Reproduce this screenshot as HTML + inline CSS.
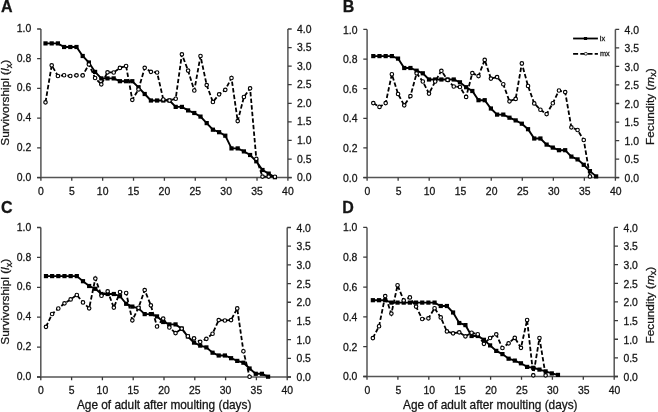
<!DOCTYPE html>
<html><head><meta charset="utf-8"><title>Life table</title>
<style>html,body{margin:0;padding:0;background:#fff;width:658px;height:412px;overflow:hidden}svg text{fill:#151515;stroke:#151515;stroke-width:0.28px}</style>
</head><body><svg width="658" height="412" viewBox="0 0 658 412" style="display:block;font-family:'Liberation Sans',sans-serif;will-change:transform" fill="#222"><g id="pA"><path d="M40.9 29V177.6M287.9 29V177.6M37.1 177.6H291.7" stroke="#555" stroke-width="1.5" fill="none"/><path d="M37.1 177.6H40.9M37.1 147.88H40.9M37.1 118.16H40.9M37.1 88.44H40.9M37.1 58.72H40.9M37.1 29H40.9M287.9 177.6H291.7M287.9 159.03H291.7M287.9 140.45H291.7M287.9 121.88H291.7M287.9 103.3H291.7M287.9 84.72H291.7M287.9 66.15H291.7M287.9 47.57H291.7M287.9 29H291.7M40.9 177.6V180.8M71.77 177.6V180.8M102.65 177.6V180.8M133.52 177.6V180.8M164.4 177.6V180.8M195.27 177.6V180.8M226.15 177.6V180.8M257.02 177.6V180.8M287.9 177.6V180.8" stroke="#3a3a3a" stroke-width="1.3" fill="none"/><g font-size="10.4"><text x="31.3" y="180.5" text-anchor="end">0.0</text><text x="31.3" y="150.78" text-anchor="end">0.2</text><text x="31.3" y="121.06" text-anchor="end">0.4</text><text x="31.3" y="91.34" text-anchor="end">0.6</text><text x="31.3" y="61.62" text-anchor="end">0.8</text><text x="31.3" y="31.9" text-anchor="end">1.0</text><text x="297.1" y="181.1">0.0</text><text x="297.1" y="162.53">0.5</text><text x="297.1" y="143.95">1.0</text><text x="297.1" y="125.38">1.5</text><text x="297.1" y="106.8">2.0</text><text x="297.1" y="88.22">2.5</text><text x="297.1" y="69.65">3.0</text><text x="297.1" y="51.07">3.5</text><text x="297.1" y="32.5">4.0</text><text x="40.9" y="194.9" text-anchor="middle">0</text><text x="71.77" y="194.9" text-anchor="middle">5</text><text x="102.65" y="194.9" text-anchor="middle">10</text><text x="133.52" y="194.9" text-anchor="middle">15</text><text x="164.4" y="194.9" text-anchor="middle">20</text><text x="195.27" y="194.9" text-anchor="middle">25</text><text x="226.15" y="194.9" text-anchor="middle">30</text><text x="257.02" y="194.9" text-anchor="middle">35</text><text x="287.9" y="194.9" text-anchor="middle">40</text></g><text transform="translate(9.3 102.8) rotate(-90)" text-anchor="middle" font-size="11.8">Survivorshipl (<tspan font-style="italic">l</tspan><tspan font-size="9" dy="2.2">x</tspan><tspan dy="-2.2">)</tspan></text><text x="1" y="11.9" font-size="16" font-weight="bold">A</text><polyline points="45.5,102.3 51.7,65.3 57.9,76 64.1,75.2 70.3,76 76.5,75.3 82.7,75.4 88.9,64.4 95.1,78 101.3,84.3 107.5,72.3 113.7,72.5 119.9,67.9 126.1,66 132.3,99.8 138.5,89.4 144.7,67.8 150.9,71.8 157.1,72.5 163.3,99.5 169.5,100.5 175.7,98.7 181.9,54.3 188.1,70.6 194.3,90.5 200.5,56 206.7,85.1 212.9,102 219.1,94.3 225.3,89.8 231.5,78 237.7,121.1 243.9,97 250.1,88.3 256.3,158.8 262.5,176.6 268.7,176.6 274.9,176.7" fill="none" stroke="#000" stroke-width="1.8" stroke-dasharray="4.4 2.2"/><polyline points="45.5,43.4 51.7,43.4 57.9,43.4 64.1,47 70.3,47 76.5,47 82.7,56 88.9,62.5 95.1,71.9 101.3,78.4 107.5,78.4 113.7,78.4 119.9,81.2 126.1,81.2 132.3,81.2 138.5,87.3 144.7,94 150.9,100.5 157.1,100.5 163.3,100.5 169.5,100.5 175.7,106.9 181.9,106.9 188.1,110.4 194.3,113 200.5,116.6 206.7,123.1 212.9,129.7 219.1,132.2 225.3,135.7 231.5,148.4 237.7,148.4 243.9,151.4 250.1,155 256.3,161.3 262.5,170 268.7,173.6 274.9,177.2" fill="none" stroke="#000" stroke-width="1.9"/><g fill="#000"><rect x="43.4" y="41.3" width="4.2" height="4.2"/><rect x="49.6" y="41.3" width="4.2" height="4.2"/><rect x="55.8" y="41.3" width="4.2" height="4.2"/><rect x="62" y="44.9" width="4.2" height="4.2"/><rect x="68.2" y="44.9" width="4.2" height="4.2"/><rect x="74.4" y="44.9" width="4.2" height="4.2"/><rect x="80.6" y="53.9" width="4.2" height="4.2"/><rect x="86.8" y="60.4" width="4.2" height="4.2"/><rect x="93" y="69.8" width="4.2" height="4.2"/><rect x="99.2" y="76.3" width="4.2" height="4.2"/><rect x="105.4" y="76.3" width="4.2" height="4.2"/><rect x="111.6" y="76.3" width="4.2" height="4.2"/><rect x="117.8" y="79.1" width="4.2" height="4.2"/><rect x="124" y="79.1" width="4.2" height="4.2"/><rect x="130.2" y="79.1" width="4.2" height="4.2"/><rect x="136.4" y="85.2" width="4.2" height="4.2"/><rect x="142.6" y="91.9" width="4.2" height="4.2"/><rect x="148.8" y="98.4" width="4.2" height="4.2"/><rect x="155" y="98.4" width="4.2" height="4.2"/><rect x="161.2" y="98.4" width="4.2" height="4.2"/><rect x="167.4" y="98.4" width="4.2" height="4.2"/><rect x="173.6" y="104.8" width="4.2" height="4.2"/><rect x="179.8" y="104.8" width="4.2" height="4.2"/><rect x="186" y="108.3" width="4.2" height="4.2"/><rect x="192.2" y="110.9" width="4.2" height="4.2"/><rect x="198.4" y="114.5" width="4.2" height="4.2"/><rect x="204.6" y="121" width="4.2" height="4.2"/><rect x="210.8" y="127.6" width="4.2" height="4.2"/><rect x="217" y="130.1" width="4.2" height="4.2"/><rect x="223.2" y="133.6" width="4.2" height="4.2"/><rect x="229.4" y="146.3" width="4.2" height="4.2"/><rect x="235.6" y="146.3" width="4.2" height="4.2"/><rect x="241.8" y="149.3" width="4.2" height="4.2"/><rect x="248" y="152.9" width="4.2" height="4.2"/><rect x="254.2" y="159.2" width="4.2" height="4.2"/><rect x="260.4" y="167.9" width="4.2" height="4.2"/><rect x="266.6" y="171.5" width="4.2" height="4.2"/><rect x="272.8" y="175.1" width="4.2" height="4.2"/></g><g fill="#fff" stroke="#000" stroke-width="1.15"><circle cx="45.5" cy="102.3" r="1.75"/><circle cx="51.7" cy="65.3" r="1.75"/><circle cx="57.9" cy="76" r="1.75"/><circle cx="64.1" cy="75.2" r="1.75"/><circle cx="70.3" cy="76" r="1.75"/><circle cx="76.5" cy="75.3" r="1.75"/><circle cx="82.7" cy="75.4" r="1.75"/><circle cx="88.9" cy="64.4" r="1.75"/><circle cx="95.1" cy="78" r="1.75"/><circle cx="101.3" cy="84.3" r="1.75"/><circle cx="107.5" cy="72.3" r="1.75"/><circle cx="113.7" cy="72.5" r="1.75"/><circle cx="119.9" cy="67.9" r="1.75"/><circle cx="126.1" cy="66" r="1.75"/><circle cx="132.3" cy="99.8" r="1.75"/><circle cx="138.5" cy="89.4" r="1.75"/><circle cx="144.7" cy="67.8" r="1.75"/><circle cx="150.9" cy="71.8" r="1.75"/><circle cx="157.1" cy="72.5" r="1.75"/><circle cx="163.3" cy="99.5" r="1.75"/><circle cx="169.5" cy="100.5" r="1.75"/><circle cx="175.7" cy="98.7" r="1.75"/><circle cx="181.9" cy="54.3" r="1.75"/><circle cx="188.1" cy="70.6" r="1.75"/><circle cx="194.3" cy="90.5" r="1.75"/><circle cx="200.5" cy="56" r="1.75"/><circle cx="206.7" cy="85.1" r="1.75"/><circle cx="212.9" cy="102" r="1.75"/><circle cx="219.1" cy="94.3" r="1.75"/><circle cx="225.3" cy="89.8" r="1.75"/><circle cx="231.5" cy="78" r="1.75"/><circle cx="237.7" cy="121.1" r="1.75"/><circle cx="243.9" cy="97" r="1.75"/><circle cx="250.1" cy="88.3" r="1.75"/><circle cx="256.3" cy="158.8" r="1.75"/><circle cx="262.5" cy="176.6" r="1.75"/><circle cx="268.7" cy="176.6" r="1.75"/><circle cx="274.9" cy="176.7" r="1.75"/></g></g><g id="pB"><path d="M367.1 29.4V177.6M615.4 29.4V177.6M363.3 177.6H619.2" stroke="#555" stroke-width="1.5" fill="none"/><path d="M363.3 177.6H367.1M363.3 147.96H367.1M363.3 118.32H367.1M363.3 88.68H367.1M363.3 59.04H367.1M363.3 29.4H367.1M615.4 177.6H619.2M615.4 159.07H619.2M615.4 140.55H619.2M615.4 122.03H619.2M615.4 103.5H619.2M615.4 84.97H619.2M615.4 66.45H619.2M615.4 47.93H619.2M615.4 29.4H619.2M367.1 177.6V180.8M398.14 177.6V180.8M429.18 177.6V180.8M460.21 177.6V180.8M491.25 177.6V180.8M522.29 177.6V180.8M553.33 177.6V180.8M584.36 177.6V180.8M615.4 177.6V180.8" stroke="#3a3a3a" stroke-width="1.3" fill="none"/><g font-size="10.4"><text x="357.5" y="181.7" text-anchor="end">0.0</text><text x="357.5" y="152.06" text-anchor="end">0.2</text><text x="357.5" y="122.42" text-anchor="end">0.4</text><text x="357.5" y="92.78" text-anchor="end">0.6</text><text x="357.5" y="63.14" text-anchor="end">0.8</text><text x="357.5" y="33.5" text-anchor="end">1.0</text><text x="624.6" y="182">0.0</text><text x="624.6" y="163.47">0.5</text><text x="624.6" y="144.95">1.0</text><text x="624.6" y="126.43">1.5</text><text x="624.6" y="107.9">2.0</text><text x="624.6" y="89.38">2.5</text><text x="624.6" y="70.85">3.0</text><text x="624.6" y="52.33">3.5</text><text x="624.6" y="33.8">4.0</text><text x="367.5" y="194.9" text-anchor="middle">0</text><text x="398.54" y="194.9" text-anchor="middle">5</text><text x="429.57" y="194.9" text-anchor="middle">10</text><text x="460.61" y="194.9" text-anchor="middle">15</text><text x="491.65" y="194.9" text-anchor="middle">20</text><text x="522.69" y="194.9" text-anchor="middle">25</text><text x="553.73" y="194.9" text-anchor="middle">30</text><text x="584.76" y="194.9" text-anchor="middle">35</text><text x="615.8" y="194.9" text-anchor="middle">40</text></g><text transform="translate(654.2 106.7) rotate(-90)" text-anchor="middle" font-size="11.8">Fecundity (<tspan font-style="italic">m</tspan><tspan font-size="9" dy="2.2">x</tspan><tspan dy="-2.2">)</tspan></text><text x="342.8" y="11.9" font-size="16" font-weight="bold">B</text><polyline points="373.29,103.1 379.48,106.9 385.67,103.1 391.86,74.2 398.05,94 404.24,105.3 410.43,96.1 416.62,73.3 422.81,81.5 429,93.6 435.19,81.5 441.38,70.8 447.57,79.9 453.76,86.5 459.95,87 466.14,96.9 472.33,73.1 478.52,76.1 484.71,59.9 490.9,78.6 497.09,77.1 503.28,84.2 509.47,101.3 515.66,98.9 521.85,63.4 528.04,86 534.23,103.4 540.42,109.7 546.61,114.1 552.8,103.2 558.99,90.5 565.18,92.1 571.37,127.3 577.56,130 583.75,140 589.94,176.4" fill="none" stroke="#000" stroke-width="1.8" stroke-dasharray="4.4 2.2"/><polyline points="373.29,56.1 379.48,56.1 385.67,56.1 391.86,56.1 398.05,58.6 404.24,68 410.43,68 416.62,70.7 422.81,73.3 429,79.5 435.19,79.5 441.38,79.5 447.57,79.5 453.76,79.5 459.95,82.3 466.14,87.2 472.33,91 478.52,100.2 484.71,100.2 490.9,108.5 497.09,114.6 503.28,114.6 509.47,117.7 515.66,120.4 521.85,123.7 528.04,129.2 534.23,138.5 540.42,138.5 546.61,144.6 552.8,147.6 558.99,150.2 565.18,150.2 571.37,156.6 577.56,159.4 583.75,164.8 589.94,171.1 596.13,176.4" fill="none" stroke="#000" stroke-width="1.9"/><g fill="#000"><rect x="371.19" y="54" width="4.2" height="4.2"/><rect x="377.38" y="54" width="4.2" height="4.2"/><rect x="383.57" y="54" width="4.2" height="4.2"/><rect x="389.76" y="54" width="4.2" height="4.2"/><rect x="395.95" y="56.5" width="4.2" height="4.2"/><rect x="402.14" y="65.9" width="4.2" height="4.2"/><rect x="408.33" y="65.9" width="4.2" height="4.2"/><rect x="414.52" y="68.6" width="4.2" height="4.2"/><rect x="420.71" y="71.2" width="4.2" height="4.2"/><rect x="426.9" y="77.4" width="4.2" height="4.2"/><rect x="433.09" y="77.4" width="4.2" height="4.2"/><rect x="439.28" y="77.4" width="4.2" height="4.2"/><rect x="445.47" y="77.4" width="4.2" height="4.2"/><rect x="451.66" y="77.4" width="4.2" height="4.2"/><rect x="457.85" y="80.2" width="4.2" height="4.2"/><rect x="464.04" y="85.1" width="4.2" height="4.2"/><rect x="470.23" y="88.9" width="4.2" height="4.2"/><rect x="476.42" y="98.1" width="4.2" height="4.2"/><rect x="482.61" y="98.1" width="4.2" height="4.2"/><rect x="488.8" y="106.4" width="4.2" height="4.2"/><rect x="494.99" y="112.5" width="4.2" height="4.2"/><rect x="501.18" y="112.5" width="4.2" height="4.2"/><rect x="507.37" y="115.6" width="4.2" height="4.2"/><rect x="513.56" y="118.3" width="4.2" height="4.2"/><rect x="519.75" y="121.6" width="4.2" height="4.2"/><rect x="525.94" y="127.1" width="4.2" height="4.2"/><rect x="532.13" y="136.4" width="4.2" height="4.2"/><rect x="538.32" y="136.4" width="4.2" height="4.2"/><rect x="544.51" y="142.5" width="4.2" height="4.2"/><rect x="550.7" y="145.5" width="4.2" height="4.2"/><rect x="556.89" y="148.1" width="4.2" height="4.2"/><rect x="563.08" y="148.1" width="4.2" height="4.2"/><rect x="569.27" y="154.5" width="4.2" height="4.2"/><rect x="575.46" y="157.3" width="4.2" height="4.2"/><rect x="581.65" y="162.7" width="4.2" height="4.2"/><rect x="587.84" y="169" width="4.2" height="4.2"/><rect x="594.03" y="174.3" width="4.2" height="4.2"/></g><g fill="#fff" stroke="#000" stroke-width="1.15"><circle cx="373.29" cy="103.1" r="1.75"/><circle cx="379.48" cy="106.9" r="1.75"/><circle cx="385.67" cy="103.1" r="1.75"/><circle cx="391.86" cy="74.2" r="1.75"/><circle cx="398.05" cy="94" r="1.75"/><circle cx="404.24" cy="105.3" r="1.75"/><circle cx="410.43" cy="96.1" r="1.75"/><circle cx="416.62" cy="73.3" r="1.75"/><circle cx="422.81" cy="81.5" r="1.75"/><circle cx="429" cy="93.6" r="1.75"/><circle cx="435.19" cy="81.5" r="1.75"/><circle cx="441.38" cy="70.8" r="1.75"/><circle cx="447.57" cy="79.9" r="1.75"/><circle cx="453.76" cy="86.5" r="1.75"/><circle cx="459.95" cy="87" r="1.75"/><circle cx="466.14" cy="96.9" r="1.75"/><circle cx="472.33" cy="73.1" r="1.75"/><circle cx="478.52" cy="76.1" r="1.75"/><circle cx="484.71" cy="59.9" r="1.75"/><circle cx="490.9" cy="78.6" r="1.75"/><circle cx="497.09" cy="77.1" r="1.75"/><circle cx="503.28" cy="84.2" r="1.75"/><circle cx="509.47" cy="101.3" r="1.75"/><circle cx="515.66" cy="98.9" r="1.75"/><circle cx="521.85" cy="63.4" r="1.75"/><circle cx="528.04" cy="86" r="1.75"/><circle cx="534.23" cy="103.4" r="1.75"/><circle cx="540.42" cy="109.7" r="1.75"/><circle cx="546.61" cy="114.1" r="1.75"/><circle cx="552.8" cy="103.2" r="1.75"/><circle cx="558.99" cy="90.5" r="1.75"/><circle cx="565.18" cy="92.1" r="1.75"/><circle cx="571.37" cy="127.3" r="1.75"/><circle cx="577.56" cy="130" r="1.75"/><circle cx="583.75" cy="140" r="1.75"/><circle cx="589.94" cy="176.4" r="1.75"/></g><path d="M573.1 38.5H597.9" stroke="#000" stroke-width="1.8"/><rect x="583.9" y="37" width="3.2" height="3" fill="#000"/><path d="M573.1 53.9H597.9" stroke="#000" stroke-width="1.6" stroke-dasharray="5 2.2"/><ellipse cx="585.8" cy="53.8" rx="1.7" ry="1.3" fill="#fff" stroke="#000" stroke-width="0.8"/><text x="599.8" y="40.9" font-size="7.4">lx</text><text x="599.9" y="55.9" font-size="7.3">mx</text></g><g id="pC"><path d="M40.8 227.5V377M287.2 227.5V377M37 377H291" stroke="#555" stroke-width="1.5" fill="none"/><path d="M37 377H40.8M37 347.1H40.8M37 317.2H40.8M37 287.3H40.8M37 257.4H40.8M37 227.5H40.8M287.2 377H291M287.2 358.31H291M287.2 339.62H291M287.2 320.94H291M287.2 302.25H291M287.2 283.56H291M287.2 264.88H291M287.2 246.19H291M287.2 227.5H291M40.8 377V380.2M71.6 377V380.2M102.4 377V380.2M133.2 377V380.2M164 377V380.2M194.8 377V380.2M225.6 377V380.2M256.4 377V380.2M287.2 377V380.2" stroke="#3a3a3a" stroke-width="1.3" fill="none"/><g font-size="10.4"><text x="31.2" y="380.1" text-anchor="end">0.0</text><text x="31.2" y="350.2" text-anchor="end">0.2</text><text x="31.2" y="320.3" text-anchor="end">0.4</text><text x="31.2" y="290.4" text-anchor="end">0.6</text><text x="31.2" y="260.5" text-anchor="end">0.8</text><text x="31.2" y="230.6" text-anchor="end">1.0</text><text x="296.4" y="381">0.0</text><text x="296.4" y="362.31">0.5</text><text x="296.4" y="343.62">1.0</text><text x="296.4" y="324.94">1.5</text><text x="296.4" y="306.25">2.0</text><text x="296.4" y="287.56">2.5</text><text x="296.4" y="268.88">3.0</text><text x="296.4" y="250.19">3.5</text><text x="296.4" y="231.5">4.0</text><text x="40.8" y="394.3" text-anchor="middle">0</text><text x="71.6" y="394.3" text-anchor="middle">5</text><text x="102.4" y="394.3" text-anchor="middle">10</text><text x="133.2" y="394.3" text-anchor="middle">15</text><text x="164" y="394.3" text-anchor="middle">20</text><text x="194.8" y="394.3" text-anchor="middle">25</text><text x="225.6" y="394.3" text-anchor="middle">30</text><text x="256.4" y="394.3" text-anchor="middle">35</text><text x="287.2" y="394.3" text-anchor="middle">40</text></g><text x="76.9" y="409.1" font-size="11.85">Age of adult after moulting (days)</text><text transform="translate(9.3 301.75) rotate(-90)" text-anchor="middle" font-size="11.8">Survivorshipl (<tspan font-style="italic">l</tspan><tspan font-size="9" dy="2.2">x</tspan><tspan dy="-2.2">)</tspan></text><text x="1.1" y="212.5" font-size="16" font-weight="bold">C</text><polyline points="45.97,326.8 52.14,314 58.31,308.5 64.48,303.3 70.65,299.4 76.82,295 82.99,302.4 89.16,308.3 95.33,278.6 101.5,295.7 107.67,291.3 113.84,307.6 120.01,292 126.18,293 132.35,320.3 138.52,307.7 144.69,290.1 150.86,305.3 157.03,326.5 163.2,318.6 169.37,327.5 175.54,333.1 181.71,328.6 187.88,336.2 194.05,338.3 200.22,341.8 206.39,338.8 212.56,333.7 218.73,320.1 224.9,320.5 231.07,320.1 237.24,308.4 243.41,351.2 249.58,376.7" fill="none" stroke="#000" stroke-width="1.8" stroke-dasharray="4.4 2.2"/><polyline points="45.97,276.1 52.14,276.1 58.31,276.1 64.48,276.1 70.65,276.1 76.82,276.1 82.99,281.2 89.16,286 95.33,288.8 101.5,294 107.67,294 113.84,294 120.01,296.2 126.18,303.8 132.35,306.6 138.52,308.3 144.69,314.1 150.86,314.1 157.03,316.4 163.2,322 169.37,324.4 175.54,324.4 181.71,328.6 187.88,336.5 194.05,342.6 200.22,345.6 206.39,347.4 212.56,352.7 218.73,355.5 224.9,355.5 231.07,358.2 237.24,360.9 243.41,362.7 249.58,368.5 255.75,373.8 261.92,373.8 268.09,376.7" fill="none" stroke="#000" stroke-width="1.9"/><g fill="#000"><rect x="43.87" y="274" width="4.2" height="4.2"/><rect x="50.04" y="274" width="4.2" height="4.2"/><rect x="56.21" y="274" width="4.2" height="4.2"/><rect x="62.38" y="274" width="4.2" height="4.2"/><rect x="68.55" y="274" width="4.2" height="4.2"/><rect x="74.72" y="274" width="4.2" height="4.2"/><rect x="80.89" y="279.1" width="4.2" height="4.2"/><rect x="87.06" y="283.9" width="4.2" height="4.2"/><rect x="93.23" y="286.7" width="4.2" height="4.2"/><rect x="99.4" y="291.9" width="4.2" height="4.2"/><rect x="105.57" y="291.9" width="4.2" height="4.2"/><rect x="111.74" y="291.9" width="4.2" height="4.2"/><rect x="117.91" y="294.1" width="4.2" height="4.2"/><rect x="124.08" y="301.7" width="4.2" height="4.2"/><rect x="130.25" y="304.5" width="4.2" height="4.2"/><rect x="136.42" y="306.2" width="4.2" height="4.2"/><rect x="142.59" y="312" width="4.2" height="4.2"/><rect x="148.76" y="312" width="4.2" height="4.2"/><rect x="154.93" y="314.3" width="4.2" height="4.2"/><rect x="161.1" y="319.9" width="4.2" height="4.2"/><rect x="167.27" y="322.3" width="4.2" height="4.2"/><rect x="173.44" y="322.3" width="4.2" height="4.2"/><rect x="179.61" y="326.5" width="4.2" height="4.2"/><rect x="185.78" y="334.4" width="4.2" height="4.2"/><rect x="191.95" y="340.5" width="4.2" height="4.2"/><rect x="198.12" y="343.5" width="4.2" height="4.2"/><rect x="204.29" y="345.3" width="4.2" height="4.2"/><rect x="210.46" y="350.6" width="4.2" height="4.2"/><rect x="216.63" y="353.4" width="4.2" height="4.2"/><rect x="222.8" y="353.4" width="4.2" height="4.2"/><rect x="228.97" y="356.1" width="4.2" height="4.2"/><rect x="235.14" y="358.8" width="4.2" height="4.2"/><rect x="241.31" y="360.6" width="4.2" height="4.2"/><rect x="247.48" y="366.4" width="4.2" height="4.2"/><rect x="253.65" y="371.7" width="4.2" height="4.2"/><rect x="259.82" y="371.7" width="4.2" height="4.2"/><rect x="265.99" y="374.6" width="4.2" height="4.2"/></g><g fill="#fff" stroke="#000" stroke-width="1.15"><circle cx="45.97" cy="326.8" r="1.75"/><circle cx="52.14" cy="314" r="1.75"/><circle cx="58.31" cy="308.5" r="1.75"/><circle cx="64.48" cy="303.3" r="1.75"/><circle cx="70.65" cy="299.4" r="1.75"/><circle cx="76.82" cy="295" r="1.75"/><circle cx="82.99" cy="302.4" r="1.75"/><circle cx="89.16" cy="308.3" r="1.75"/><circle cx="95.33" cy="278.6" r="1.75"/><circle cx="101.5" cy="295.7" r="1.75"/><circle cx="107.67" cy="291.3" r="1.75"/><circle cx="113.84" cy="307.6" r="1.75"/><circle cx="120.01" cy="292" r="1.75"/><circle cx="126.18" cy="293" r="1.75"/><circle cx="132.35" cy="320.3" r="1.75"/><circle cx="138.52" cy="307.7" r="1.75"/><circle cx="144.69" cy="290.1" r="1.75"/><circle cx="150.86" cy="305.3" r="1.75"/><circle cx="157.03" cy="326.5" r="1.75"/><circle cx="163.2" cy="318.6" r="1.75"/><circle cx="169.37" cy="327.5" r="1.75"/><circle cx="175.54" cy="333.1" r="1.75"/><circle cx="181.71" cy="328.6" r="1.75"/><circle cx="187.88" cy="336.2" r="1.75"/><circle cx="194.05" cy="338.3" r="1.75"/><circle cx="200.22" cy="341.8" r="1.75"/><circle cx="206.39" cy="338.8" r="1.75"/><circle cx="212.56" cy="333.7" r="1.75"/><circle cx="218.73" cy="320.1" r="1.75"/><circle cx="224.9" cy="320.5" r="1.75"/><circle cx="231.07" cy="320.1" r="1.75"/><circle cx="237.24" cy="308.4" r="1.75"/><circle cx="243.41" cy="351.2" r="1.75"/><circle cx="249.58" cy="376.7" r="1.75"/></g></g><g id="pD"><path d="M367 227.4V376.5M614.2 227.4V376.5M363.2 376.5H618" stroke="#555" stroke-width="1.5" fill="none"/><path d="M363.2 376.5H367M363.2 346.68H367M363.2 316.86H367M363.2 287.04H367M363.2 257.22H367M363.2 227.4H367M614.2 376.5H618M614.2 357.86H618M614.2 339.23H618M614.2 320.59H618M614.2 301.95H618M614.2 283.31H618M614.2 264.68H618M614.2 246.04H618M614.2 227.4H618M367 376.5V379.7M397.9 376.5V379.7M428.8 376.5V379.7M459.7 376.5V379.7M490.6 376.5V379.7M521.5 376.5V379.7M552.4 376.5V379.7M583.3 376.5V379.7M614.2 376.5V379.7" stroke="#3a3a3a" stroke-width="1.3" fill="none"/><g font-size="10.4"><text x="357.4" y="380.4" text-anchor="end">0.0</text><text x="357.4" y="350.58" text-anchor="end">0.2</text><text x="357.4" y="320.76" text-anchor="end">0.4</text><text x="357.4" y="290.94" text-anchor="end">0.6</text><text x="357.4" y="261.12" text-anchor="end">0.8</text><text x="357.4" y="231.3" text-anchor="end">1.0</text><text x="623.4" y="380.9">0.0</text><text x="623.4" y="362.26">0.5</text><text x="623.4" y="343.62">1.0</text><text x="623.4" y="324.99">1.5</text><text x="623.4" y="306.35">2.0</text><text x="623.4" y="287.71">2.5</text><text x="623.4" y="269.07">3.0</text><text x="623.4" y="250.44">3.5</text><text x="623.4" y="231.8">4.0</text><text x="367.4" y="393.8" text-anchor="middle">0</text><text x="398.3" y="393.8" text-anchor="middle">5</text><text x="429.2" y="393.8" text-anchor="middle">10</text><text x="460.1" y="393.8" text-anchor="middle">15</text><text x="491" y="393.8" text-anchor="middle">20</text><text x="521.9" y="393.8" text-anchor="middle">25</text><text x="552.8" y="393.8" text-anchor="middle">30</text><text x="583.7" y="393.8" text-anchor="middle">35</text><text x="614.6" y="393.8" text-anchor="middle">40</text></g><text x="403.1" y="408.6" font-size="11.85">Age of adult after moulting (days)</text><text transform="translate(654.2 305.15) rotate(-90)" text-anchor="middle" font-size="11.8">Fecundity (<tspan font-style="italic">m</tspan><tspan font-size="9" dy="2.2">x</tspan><tspan dy="-2.2">)</tspan></text><text x="342.3" y="212.5" font-size="16" font-weight="bold">D</text><polyline points="372.87,338.1 379.04,326.2 385.21,296.1 391.38,313.6 397.55,285.2 403.72,300.4 409.89,297.4 416.06,306.6 422.23,319 428.4,318.3 434.57,308.2 440.74,317.4 446.91,331.4 453.08,333.3 459.25,332.3 465.42,336.3 471.59,332.7 477.76,334.2 483.93,343.8 490.1,338 496.27,334.3 502.44,348 508.61,343.3 514.78,337.8 520.95,347.8 527.12,320 533.29,375.3 539.46,338 545.63,375.3" fill="none" stroke="#000" stroke-width="1.8" stroke-dasharray="4.4 2.2"/><polyline points="372.87,300.2 379.04,300.2 385.21,300.2 391.38,302.6 397.55,302.6 403.72,302.6 409.89,302.6 416.06,302.6 422.23,302.6 428.4,302.6 434.57,302.6 440.74,306 446.91,306 453.08,312.5 459.25,323 465.42,325.1 471.59,336 477.76,336 483.93,339.8 490.1,345.4 496.27,350.9 502.44,354.1 508.61,358.7 514.78,360.6 520.95,363.3 527.12,366.9 533.29,367.8 539.46,369.6 545.63,371.4 551.8,373.4 557.97,374.9" fill="none" stroke="#000" stroke-width="1.9"/><g fill="#000"><rect x="370.77" y="298.1" width="4.2" height="4.2"/><rect x="376.94" y="298.1" width="4.2" height="4.2"/><rect x="383.11" y="298.1" width="4.2" height="4.2"/><rect x="389.28" y="300.5" width="4.2" height="4.2"/><rect x="395.45" y="300.5" width="4.2" height="4.2"/><rect x="401.62" y="300.5" width="4.2" height="4.2"/><rect x="407.79" y="300.5" width="4.2" height="4.2"/><rect x="413.96" y="300.5" width="4.2" height="4.2"/><rect x="420.13" y="300.5" width="4.2" height="4.2"/><rect x="426.3" y="300.5" width="4.2" height="4.2"/><rect x="432.47" y="300.5" width="4.2" height="4.2"/><rect x="438.64" y="303.9" width="4.2" height="4.2"/><rect x="444.81" y="303.9" width="4.2" height="4.2"/><rect x="450.98" y="310.4" width="4.2" height="4.2"/><rect x="457.15" y="320.9" width="4.2" height="4.2"/><rect x="463.32" y="323" width="4.2" height="4.2"/><rect x="469.49" y="333.9" width="4.2" height="4.2"/><rect x="475.66" y="333.9" width="4.2" height="4.2"/><rect x="481.83" y="337.7" width="4.2" height="4.2"/><rect x="488" y="343.3" width="4.2" height="4.2"/><rect x="494.17" y="348.8" width="4.2" height="4.2"/><rect x="500.34" y="352" width="4.2" height="4.2"/><rect x="506.51" y="356.6" width="4.2" height="4.2"/><rect x="512.68" y="358.5" width="4.2" height="4.2"/><rect x="518.85" y="361.2" width="4.2" height="4.2"/><rect x="525.02" y="364.8" width="4.2" height="4.2"/><rect x="531.19" y="365.7" width="4.2" height="4.2"/><rect x="537.36" y="367.5" width="4.2" height="4.2"/><rect x="543.53" y="369.3" width="4.2" height="4.2"/><rect x="549.7" y="371.3" width="4.2" height="4.2"/><rect x="555.87" y="372.8" width="4.2" height="4.2"/></g><g fill="#fff" stroke="#000" stroke-width="1.15"><circle cx="372.87" cy="338.1" r="1.75"/><circle cx="379.04" cy="326.2" r="1.75"/><circle cx="385.21" cy="296.1" r="1.75"/><circle cx="391.38" cy="313.6" r="1.75"/><circle cx="397.55" cy="285.2" r="1.75"/><circle cx="403.72" cy="300.4" r="1.75"/><circle cx="409.89" cy="297.4" r="1.75"/><circle cx="416.06" cy="306.6" r="1.75"/><circle cx="422.23" cy="319" r="1.75"/><circle cx="428.4" cy="318.3" r="1.75"/><circle cx="434.57" cy="308.2" r="1.75"/><circle cx="440.74" cy="317.4" r="1.75"/><circle cx="446.91" cy="331.4" r="1.75"/><circle cx="453.08" cy="333.3" r="1.75"/><circle cx="459.25" cy="332.3" r="1.75"/><circle cx="465.42" cy="336.3" r="1.75"/><circle cx="471.59" cy="332.7" r="1.75"/><circle cx="477.76" cy="334.2" r="1.75"/><circle cx="483.93" cy="343.8" r="1.75"/><circle cx="490.1" cy="338" r="1.75"/><circle cx="496.27" cy="334.3" r="1.75"/><circle cx="502.44" cy="348" r="1.75"/><circle cx="508.61" cy="343.3" r="1.75"/><circle cx="514.78" cy="337.8" r="1.75"/><circle cx="520.95" cy="347.8" r="1.75"/><circle cx="527.12" cy="320" r="1.75"/><circle cx="533.29" cy="375.3" r="1.75"/><circle cx="539.46" cy="338" r="1.75"/><circle cx="545.63" cy="375.3" r="1.75"/></g></g></svg></body></html>
